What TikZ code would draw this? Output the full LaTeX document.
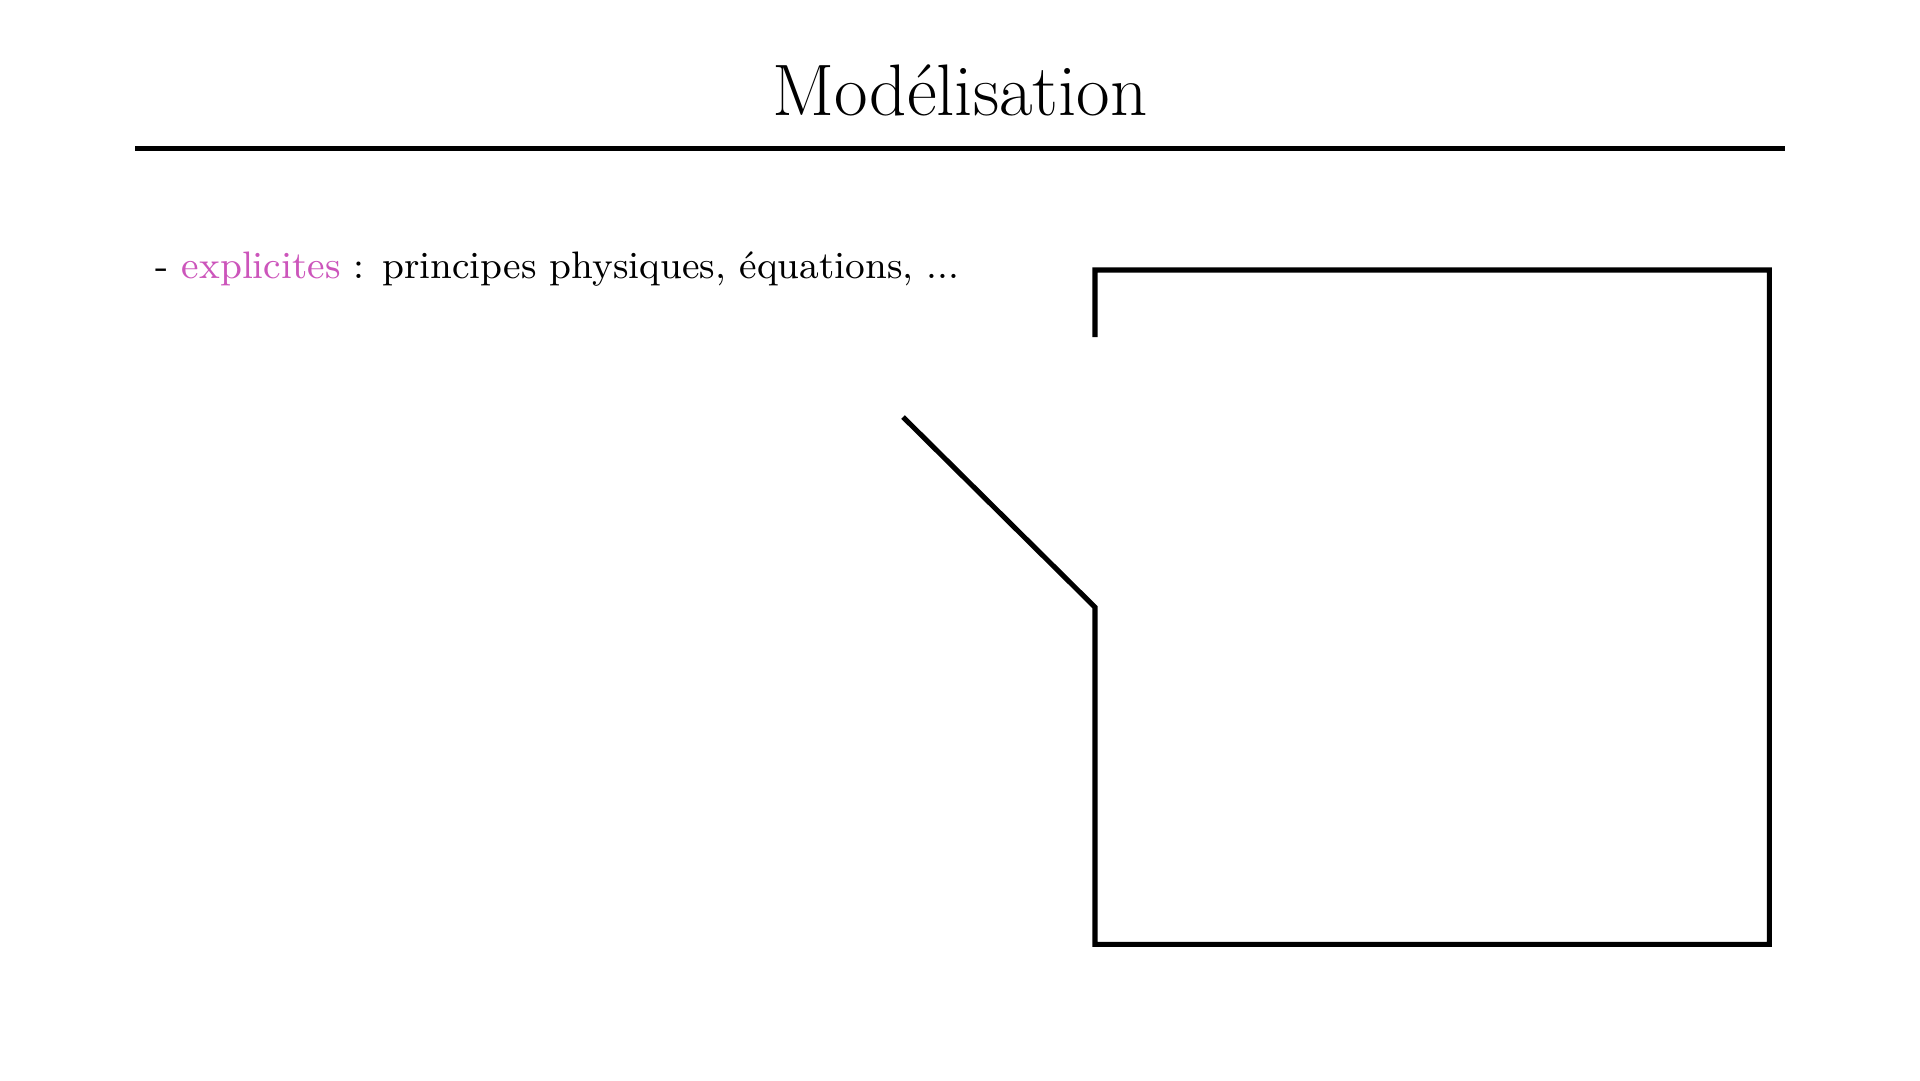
\documentclass[tikz,border=0pt]{standalone}
\usepackage{fontspec}
\definecolor{explcolor}{RGB}{204,85,187}
\begin{document}
\begin{tikzpicture}[wall/.style={line width=1.2pt,line cap=butt}]
      \useasboundingbox (0,0) rectangle (16,9);
      \draw
        (8.0,8.04) node[anchor=base] (title){\fontsize{17.3}{20}\selectfont Modélisation}
        (1.29,6.683) node[anchor=base west,inner sep=0pt] (expl){\fontsize{9.08}{11}\selectfont - \textcolor{explcolor}{explicites} : principes physiques, équations, ...};
      \coordinate (r0) at (1.125,7.76);
      \coordinate (r1) at (14.875,7.76);
      \coordinate (a) at (9.125,6.19);
      \coordinate (b) at (9.125,6.75);
      \coordinate (c) at (14.745,6.75);
      \coordinate (d) at (14.745,1.13);
      \coordinate (e) at (9.125,1.13);
      \coordinate (f) at (9.125,3.94);
      \coordinate (g) at (7.525,5.525);
      \begin{scope}[-]
        \draw[line width=1.2pt] (r0) to (r1);
        \draw[wall] (a) -- (b) -- (c) -- (d) -- (e) -- (f) -- (g);
      \end{scope}
    \end{tikzpicture}
\end{document}
